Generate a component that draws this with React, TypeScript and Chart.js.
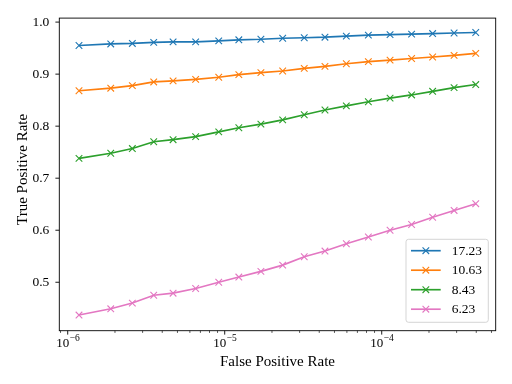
import React, { useEffect, useRef } from "react";
import { Chart, registerables } from "chart.js";

Chart.register(...registerables);

const FPR = [1.18e-6, 1.88e-6, 2.58e-6, 3.53e-6, 4.69e-6, 6.53e-6, 9.16e-6, 1.23e-5, 1.70e-5, 2.34e-5, 3.21e-5, 4.35e-5, 5.95e-5, 8.22e-5, 1.13e-4, 1.55e-4, 2.11e-4, 2.89e-4, 3.97e-4];
const TPR_1723 = [0.955, 0.958, 0.959, 0.961, 0.962, 0.962, 0.964, 0.966, 0.967, 0.969, 0.970, 0.971, 0.973, 0.975, 0.976, 0.977, 0.978, 0.979, 0.980];
const TPR_1063 = [0.868, 0.873, 0.878, 0.885, 0.887, 0.890, 0.894, 0.899, 0.903, 0.906, 0.911, 0.915, 0.920, 0.924, 0.927, 0.930, 0.933, 0.936, 0.940];
const TPR_843 = [0.738, 0.748, 0.757, 0.770, 0.774, 0.780, 0.789, 0.797, 0.804, 0.812, 0.822, 0.831, 0.839, 0.847, 0.854, 0.860, 0.867, 0.874, 0.880];
const TPR_623 = [0.437, 0.449, 0.460, 0.475, 0.479, 0.488, 0.500, 0.510, 0.521, 0.533, 0.549, 0.560, 0.574, 0.587, 0.600, 0.611, 0.625, 0.638, 0.651];
const SERIES_LABELS = ["17.23", "10.63", "8.43", "6.23"];
const SERIES_COLORS = ["#1f77b4", "#ff7f0e", "#2ca02c", "#e377c2"];
const Y_TICKS = [0.5, 0.6, 0.7, 0.8, 0.9, 1.0];
const X_TITLE = "False Positive Rate";
const Y_TITLE = "True Positive Rate";
const X_MIN = 8.84e-7;
const X_MAX = 5.32e-4;
const Y_MIN = 0.4069;
const Y_MAX = 1.0077;

const FONT = "'Liberation Serif', 'DejaVu Serif', serif";

const decorPlugin = {
  id: "decor",
  afterDraw(chart: any) {
    const ctx = chart.ctx;
    const area = chart.chartArea;
    const xs = chart.scales.x;
    const ys = chart.scales.y;
    ctx.save();
    // spines
    ctx.strokeStyle = "#000";
    ctx.lineWidth = 0.9;
    ctx.strokeRect(area.left, area.top, area.right - area.left, area.bottom - area.top);
    // x ticks
    const lo = Math.floor(Math.log10(X_MIN));
    const hi = Math.ceil(Math.log10(X_MAX));
    for (let e = lo; e <= hi; e++) {
      for (let m = 1; m <= 9; m++) {
        const v = m * Math.pow(10, e);
        if (v < X_MIN || v > X_MAX) continue;
        const px = xs.getPixelForValue(v);
        const major = m === 1;
        ctx.lineWidth = major ? 0.9 : 0.67;
        ctx.beginPath();
        ctx.moveTo(px, area.bottom);
        ctx.lineTo(px, area.bottom + (major ? 3.9 : 2.2));
        ctx.stroke();
        if (major) {
          ctx.fillStyle = "#000";
          ctx.textBaseline = "alphabetic";
          ctx.textAlign = "left";
          const base = "10";
          const exp = "\u2212" + Math.abs(e);
          ctx.font = "13px " + FONT;
          const wb = ctx.measureText(base).width;
          ctx.font = "9.5px " + FONT;
          const we = ctx.measureText(exp).width;
          const x0 = px - (wb + we) / 2;
          const by = area.bottom + 16;
          ctx.font = "13px " + FONT;
          ctx.fillText(base, x0, by);
          ctx.font = "9.5px " + FONT;
          ctx.fillText(exp, x0 + wb + 0.5, by - 5.5);
        }
      }
    }
    // y ticks
    ctx.lineWidth = 0.9;
    for (const v of Y_TICKS) {
      const py = ys.getPixelForValue(v);
      ctx.beginPath();
      ctx.moveTo(area.left, py);
      ctx.lineTo(area.left - 3.9, py);
      ctx.stroke();
    }
    // axis titles
    ctx.fillStyle = "#000";
    ctx.font = "15px " + FONT;
    ctx.textAlign = "center";
    ctx.textBaseline = "alphabetic";
    ctx.fillText(X_TITLE, (area.left + area.right) / 2, 366);
    ctx.save();
    ctx.translate(26.7, (area.top + area.bottom) / 2 - 5);
    ctx.rotate(-Math.PI / 2);
    ctx.fillText(Y_TITLE, 0, 0);
    ctx.restore();
    // legend
    const bw = 82.3;
    const bh = 83;
    const bx = area.right - 7.4 - bw;
    const by = area.bottom - 8.4 - bh;
    const r = 2.5;
    ctx.beginPath();
    ctx.moveTo(bx + r, by);
    ctx.lineTo(bx + bw - r, by);
    ctx.quadraticCurveTo(bx + bw, by, bx + bw, by + r);
    ctx.lineTo(bx + bw, by + bh - r);
    ctx.quadraticCurveTo(bx + bw, by + bh, bx + bw - r, by + bh);
    ctx.lineTo(bx + r, by + bh);
    ctx.quadraticCurveTo(bx, by + bh, bx, by + bh - r);
    ctx.lineTo(bx, by + r);
    ctx.quadraticCurveTo(bx, by, bx + r, by);
    ctx.closePath();
    ctx.fillStyle = "rgba(255,255,255,0.8)";
    ctx.fill();
    ctx.strokeStyle = "#d0d0d0";
    ctx.lineWidth = 0.9;
    ctx.stroke();
    chart.data.datasets.forEach((ds: any, i: number) => {
      const y = by + 11.4 + i * 19.5;
      const lx0 = bx + 5;
      const lx1 = bx + 34.7;
      const mx = (lx0 + lx1) / 2;
      ctx.strokeStyle = ds.borderColor;
      ctx.lineWidth = 1.67;
      ctx.beginPath();
      ctx.moveTo(lx0, y);
      ctx.lineTo(lx1, y);
      ctx.stroke();
      ctx.lineWidth = 1.1;
      const s = 3.3;
      ctx.beginPath();
      ctx.moveTo(mx - s, y - s);
      ctx.lineTo(mx + s, y + s);
      ctx.moveTo(mx - s, y + s);
      ctx.lineTo(mx + s, y - s);
      ctx.stroke();
      ctx.fillStyle = "#000";
      ctx.font = "13.5px " + FONT;
      ctx.textAlign = "left";
      ctx.textBaseline = "middle";
      ctx.fillText(ds.label, bx + 45.7, y + 0.5);
    });
    ctx.restore();
  },
};

export default function App() {
  const ref = useRef<HTMLCanvasElement>(null);
  useEffect(() => {
    if (!ref.current) return;
    const seriesValues = [TPR_1723, TPR_1063, TPR_843, TPR_623];
    const datasets = seriesValues.map((vals, i) => ({
      label: SERIES_LABELS[i],
      data: FPR.map((x, j) => ({ x, y: vals[j] })),
      borderColor: SERIES_COLORS[i],
      backgroundColor: SERIES_COLORS[i],
      borderWidth: 1.67,
      pointStyle: "crossRot",
      pointRadius: 4.67,
      pointBorderWidth: 1.1,
      pointBorderColor: SERIES_COLORS[i],
      tension: 0,
      fill: false,
    }));
    const chart = new Chart(ref.current, {
      type: "line",
      data: { datasets },
      plugins: [decorPlugin],
      options: {
        animation: false,
        responsive: false,
        devicePixelRatio: 1,
        layout: { padding: { top: 16.7, right: 16.3, left: 0, bottom: 0 } },
        plugins: { legend: { display: false }, tooltip: { enabled: false } },
        scales: {
          x: {
            type: "logarithmic",
            min: X_MIN,
            max: X_MAX,
            grid: { display: false, drawTicks: false },
            border: { display: false },
            ticks: { display: false },
            title: { display: false },
            afterFit(scale: any) {
              scale.height = 53.3;
            },
          },
          y: {
            type: "linear",
            min: Y_MIN,
            max: Y_MAX,
            grid: { display: false, drawTicks: false },
            border: { display: false },
            afterBuildTicks(scale: any) {
              scale.ticks = Y_TICKS.map((v) => ({ value: v }));
            },
            ticks: {
              color: "#000",
              padding: 10,
              font: { family: FONT, size: 13.5 },
              callback: (v: any) => Number(v).toFixed(1),
            },
            title: { display: false },
            afterFit(scale: any) {
              scale.width = 59.3;
            },
          },
        },
      } as any,
    });
    return () => chart.destroy();
  }, []);
  return (
    <div style={{ position: "fixed", left: 0, top: 0, width: 512, height: 384, background: "#fff" }}>
      <canvas ref={ref} width={512} height={384} style={{ width: 512, height: 384 }} />
    </div>
  );
}
